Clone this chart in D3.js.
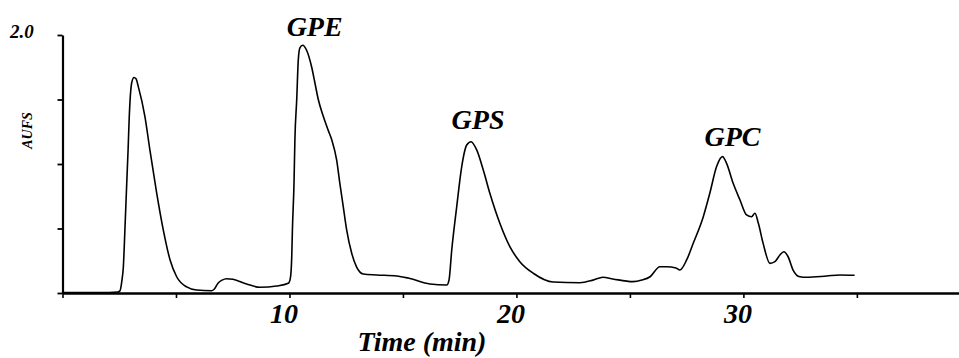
<!DOCTYPE html>
<html>
<head>
<meta charset="utf-8">
<script src="https://cdn.jsdelivr.net/npm/d3@7/dist/d3.min.js"></script>
<style>
  html, body { margin: 0; padding: 0; background: #fff; }
  svg { display: block; }
  text { font-family: "Liberation Serif", "Times New Roman", serif; font-weight: bold; font-style: italic; fill: #000; }
</style>
</head>
<body>
<svg id="chart" width="959" height="358"></svg>
<script>
// Chromatogram trace: time (min) and absorbance (AUFS)
const times = [0, 1.65, 2.44, 2.53, 2.62, 2.68, 2.75, 2.83, 2.89, 2.94, 3.05, 3.15, 3.24, 3.34, 3.63, 3.85, 4.15, 4.44, 4.74, 5.03, 5.47, 5.91, 6.57, 6.67, 6.86, 7.03, 7.23, 7.51, 8.11, 8.70, 9.44, 9.95, 10.04, 10.10, 10.13, 10.20, 10.24, 10.32, 10.39, 10.46, 10.58, 10.76, 10.98, 11.12, 11.27, 11.49, 11.71, 11.86, 12.08, 12.22, 12.37, 12.52, 12.74, 12.96, 13.25, 13.84, 14.72, 15.23, 16.19, 16.93, 17.03, 17.15, 17.37, 17.59, 17.81, 18.0, 18.25, 18.54, 18.83, 19.27, 19.71, 20.15, 20.74, 21.62, 22.80, 23.38, 23.81, 24.25, 25.13, 25.53, 25.89, 26.32, 26.62, 27.03, 27.2, 27.50, 27.79, 28.23, 28.52, 28.82, 29.08, 29.26, 29.55, 29.85, 30.14, 30.36, 30.51, 30.66, 30.87, 31.17, 31.39, 31.61, 31.78, 31.97, 32.19, 32.49, 32.78, 33.67, 34.25, 34.9];
const aufs = [0.004, 0.004, 0.008, 0.016, 0.10, 0.20, 0.49, 0.85, 1.11, 1.36, 1.63, 1.67, 1.66, 1.60, 1.37, 1.11, 0.775, 0.49, 0.256, 0.126, 0.047, 0.023, 0.018, 0.027, 0.078, 0.10, 0.111, 0.106, 0.07, 0.044, 0.054, 0.075, 0.116, 0.28, 0.49, 0.85, 1.19, 1.50, 1.81, 1.90, 1.92, 1.88, 1.75, 1.63, 1.50, 1.37, 1.26, 1.19, 1.03, 0.85, 0.67, 0.49, 0.31, 0.20, 0.147, 0.14, 0.132, 0.116, 0.07, 0.062, 0.10, 0.333, 0.67, 0.98, 1.147, 1.173, 1.109, 0.953, 0.773, 0.54, 0.359, 0.243, 0.153, 0.085, 0.08, 0.10, 0.122, 0.109, 0.088, 0.10, 0.126, 0.204, 0.204, 0.194, 0.178, 0.256, 0.385, 0.59, 0.773, 0.98, 1.057, 1.005, 0.85, 0.721, 0.605, 0.591, 0.618, 0.54, 0.385, 0.23, 0.243, 0.295, 0.32, 0.281, 0.178, 0.126, 0.122, 0.132, 0.14, 0.137];

const xTicks = [0, 5, 10, 15, 20, 25, 30, 35];
const xTickLabels = ["", "", "10", "", "20", "", "30", ""];
const yTicks = [0, 0.5, 1.0, 1.5, 2.0];
const yTopLabel = "2.0";

const peakNames = ["GPE", "GPS", "GPC"];
const peakTimes = [10.58, 18.0, 29.08];
const peakLabelHeights = [1.99, 1.27, 1.14];

const xTitle = "Time (min)";
const yTitle = "AUFS";

const svg = d3.select("#chart");
const x = d3.scaleLinear().domain([0, 39.5]).range([62.5, 959]);
const y = d3.scaleLinear().domain([0, 2]).range([293, 35]);

// X axis
const xAxis = d3.axisBottom(x)
  .tickValues(xTicks)
  .tickSize(5)
  .tickSizeOuter(0)
  .tickFormat((d, i) => xTickLabels[i]);
const gx = svg.append("g").attr("transform", `translate(0,${y(0)})`).call(xAxis);
gx.select(".domain").attr("stroke", "#000").attr("stroke-width", 2.6);
gx.selectAll(".tick line").attr("stroke", "#000").attr("stroke-width", 1.6);
gx.selectAll(".tick text")
  .attr("y", 30).attr("dy", 0).attr("dx", -6)
  .style("font-family", "'Liberation Serif', serif")
  .style("font-size", "28px")
  .style("font-weight", "bold")
  .style("font-style", "italic")
  .attr("fill", "#000");

// Y axis
const yAxis = d3.axisLeft(y)
  .tickValues(yTicks)
  .tickSize(5)
  .tickSizeOuter(0)
  .tickFormat("");
const gy = svg.append("g").attr("transform", `translate(${x(0)},0)`).call(yAxis);
gy.select(".domain").attr("stroke", "#000").attr("stroke-width", 2.2);
gy.selectAll(".tick line").attr("stroke", "#000").attr("stroke-width", 1.8);

svg.append("text")
  .attr("x", 10).attr("y", y(2) + 3)
  .style("font-size", "19px")
  .text(yTopLabel);

svg.append("text")
  .attr("transform", `translate(32,${y(1.26)}) rotate(-90)`)
  .attr("text-anchor", "middle")
  .style("font-size", "14px")
  .text(yTitle);

svg.append("text")
  .attr("x", 422).attr("y", 351)
  .attr("text-anchor", "middle")
  .style("font-size", "28px")
  .text(xTitle);

// Trace
const data = times.map((t, i) => ({ t, v: aufs[i] }));
const line = d3.line().x(d => x(d.t)).y(d => y(d.v)).curve(d3.curveMonotoneX);
svg.append("path")
  .datum(data)
  .attr("d", line)
  .attr("fill", "none")
  .attr("stroke", "#000")
  .attr("stroke-width", 1.6)
  .attr("stroke-linejoin", "round");

// Peak labels
svg.selectAll("text.peak")
  .data(peakNames)
  .enter().append("text")
  .attr("class", "peak")
  .attr("x", (d, i) => x(peakTimes[i]) + [12, 7, 10][i])
  .attr("y", (d, i) => y(peakLabelHeights[i]))
  .attr("text-anchor", "middle")
  .style("font-size", "28px")
  .text(d => d);
</script>
</body>
</html>
